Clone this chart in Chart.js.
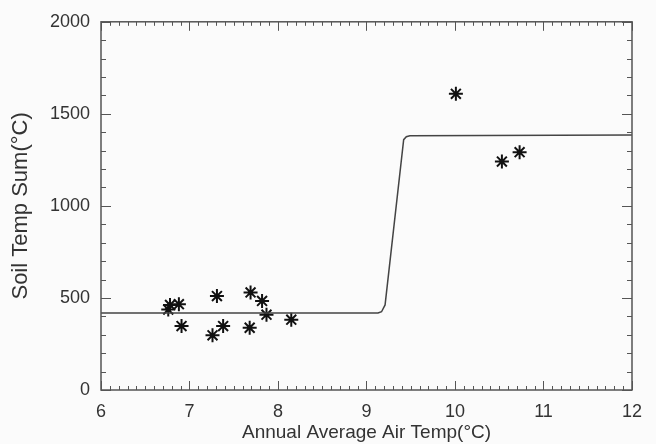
<!DOCTYPE html>
<html>
<head>
<meta charset="utf-8">
<script src="https://cdn.jsdelivr.net/npm/chart.js@4.4.1/dist/chart.umd.min.js"></script>
<style>
  html, body { margin: 0; padding: 0; background: #fbfbfb; }
  #wrap { width: 656px; height: 444px; }
</style>
</head>
<body>
<div id="wrap"><canvas id="chart" width="656" height="444"></canvas></div>
<script>
// measured points (annual average air temp vs soil temp sum)
const airTemp = [6.76, 6.78, 6.88, 6.91, 7.26, 7.31, 7.38, 7.68, 7.69, 7.82, 7.87, 8.15, 10.01, 10.53, 10.73];
const soilSum = [437, 462, 466, 347, 297, 510, 347, 338, 530, 484, 409, 382, 1609, 1241, 1292];

// fitted step curve
const fitX = [6, 9.13, 9.17, 9.21, 9.42, 9.45, 9.49, 12];
const fitY = [418, 418, 425, 462, 1360, 1376, 1381, 1385];

const xTicks = [6, 7, 8, 9, 10, 11, 12];
const yTicks = [0, 500, 1000, 1500, 2000];

const axisColor = '#555';
const textColor = '#333';

// IDL style box with inward major/minor ticks
const boxTicks = {
  id: 'boxTicks',
  afterDraw(chart) {
    const { ctx, chartArea: a, scales: { x, y } } = chart;
    ctx.save();
    ctx.strokeStyle = axisColor;
    ctx.lineWidth = 1.5;
    ctx.strokeRect(a.left, a.top, a.right - a.left, a.bottom - a.top);
    ctx.lineWidth = 1;
    ctx.beginPath();
    for (let v = 6; v <= 12.0001; v += 0.1) {
      const px = Math.round(x.getPixelForValue(v)) + 0.5;
      const major = Math.abs(v - Math.round(v)) < 0.01;
      const len = major ? 9 : 4;
      ctx.moveTo(px, a.bottom); ctx.lineTo(px, a.bottom - len);
      ctx.moveTo(px, a.top); ctx.lineTo(px, a.top + len);
    }
    for (let v = 0; v <= 2000; v += 100) {
      const py = Math.round(y.getPixelForValue(v)) + 0.5;
      const len = v % 500 === 0 ? 10 : 5;
      ctx.moveTo(a.left, py); ctx.lineTo(a.left + len, py);
      ctx.moveTo(a.right, py); ctx.lineTo(a.right - len, py);
    }
    ctx.stroke();
    ctx.restore();
  }
};

new Chart(document.getElementById('chart'), {
  type: 'scatter',
  data: {
    datasets: [
      {
        label: 'fit',
        type: 'line',
        data: fitX.map((v, i) => ({ x: v, y: fitY[i] })),
        borderColor: '#444',
        borderWidth: 1.5,
        pointRadius: 0,
        tension: 0,
        fill: false
      },
      {
        label: 'sites',
        data: airTemp.map((v, i) => ({ x: v, y: soilSum[i] })),
        pointStyle: 'star',
        pointRadius: 7,
        borderColor: '#111',
        backgroundColor: '#111',
        borderWidth: 2
      }
    ]
  },
  options: {
    responsive: false,
    animation: false,
    layout: { padding: { left: 0, top: 15, right: 24, bottom: 0 } },
    plugins: { legend: { display: false }, tooltip: { enabled: false } },
    scales: {
      x: {
        type: 'linear',
        min: 6, max: 12,
        afterBuildTicks: s => { s.ticks = xTicks.map(v => ({ value: v })); },
        afterFit: s => { s.height = 54; },
        grid: { display: false, drawTicks: false },
        border: { display: false },
        ticks: {
          color: textColor, padding: 11,
          font: { family: 'Liberation Sans', size: 18 },
          callback: v => String(v)
        },
        title: {
          display: true,
          text: 'Annual Average Air Temp(°C)',
          color: textColor,
          padding: { top: 0, bottom: 0 },
          font: { family: 'Liberation Sans', size: 19 }
        }
      },
      y: {
        min: 0, max: 2000,
        afterBuildTicks: s => { s.ticks = yTicks.map(v => ({ value: v })); },
        afterFit: s => { s.width = 101; },
        grid: { display: false, drawTicks: false },
        border: { display: false },
        ticks: {
          color: textColor, padding: 11,
          font: { family: 'Liberation Sans', size: 18 },
          callback: v => String(v)
        },
        title: {
          display: true,
          text: 'Soil Temp Sum(°C)',
          color: textColor,
          padding: { top: 8, bottom: 0 },
          font: { family: 'Liberation Sans', size: 22 }
        }
      }
    }
  },
  plugins: [boxTicks]
});
</script>
</body>
</html>
